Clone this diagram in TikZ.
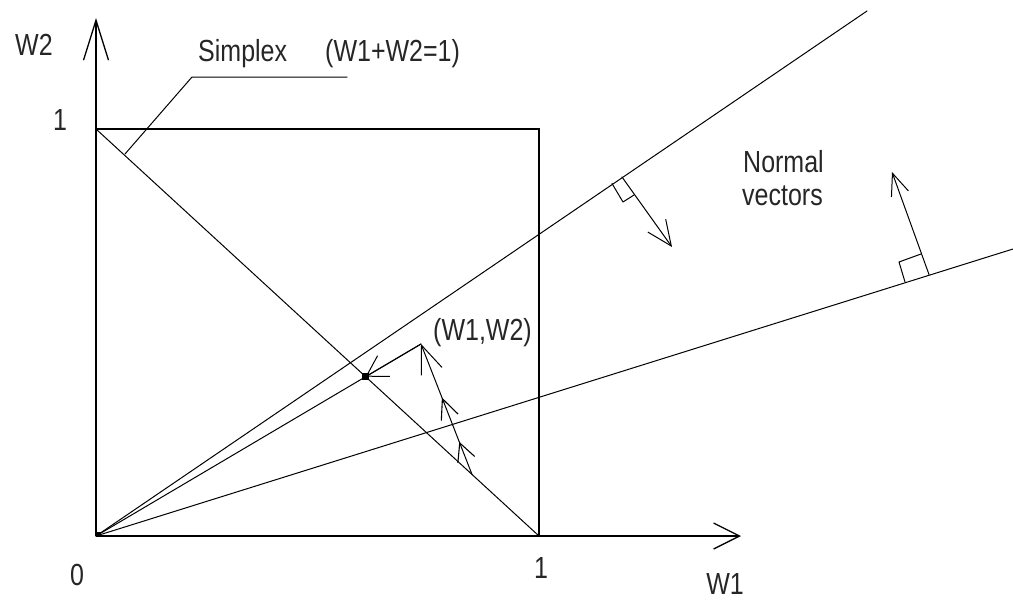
\documentclass[tikz,border=0pt]{standalone}
\usepackage{fontspec}
\usepackage{graphicx}
\setmainfont{Liberation Sans}
\usetikzlibrary{arrows.meta,decorations.markings,calc}
\newcommand{\tallt}[1]{\scalebox{1}[1.22]{#1}}
\begin{document}
\begin{tikzpicture}[x=1pt,y=-1pt,
  lbl/.style={font=\fontsize{25}{30}\selectfont, inner sep=0pt, text=black!85},
  ln/.style={line width=1pt, line cap=round, line join=round},
  axis/.style={line width=1.3pt},
  barb/.style={line width=1.1pt}]
\useasboundingbox (0,0) rectangle (1013,600);
% key points
\coordinate (O) at (96,536);
\coordinate (ytip) at (96,18);
\coordinate (xtip) at (741,536);
\coordinate (X1) at (539,536);
\coordinate (Y1) at (96,129);
\coordinate (C) at (539,129);
\coordinate (L1) at (867,11);
\coordinate (L2) at (1013,249);
\coordinate (P) at (421,344);
\coordinate (D) at (365.6,376.7);
\coordinate (S) at (472,474.4);
% axes
\draw[axis, -{Straight Barb[length=40pt,width=25pt]}] (O) -- (ytip);
\draw[axis, -{Straight Barb[length=26pt,width=26pt]}] (O) -- (xtip);
% unit square
\draw[axis] (Y1) -- (C) -- (X1);
\draw[line width=2.6pt] (O) -- (X1);
% simplex
\draw[ln] (Y1) -- (X1);
% lines from origin
\draw[ln] (O) -- (L1);
\draw[ln] (O) -- (L2);
\draw[ln] (O) -- (P);
\node[fill=black, minimum size=4pt, inner sep=0pt] (orig) at ($(O)+(3,-2)$) {};
% projection arrow to the simplex point
\draw[ln, -{Straight Barb[length=20pt,width=24pt]}] (P) -- (D);
\node[fill=black, minimum size=7pt, inner sep=0pt] (dot) at (D) {};
% vector from simplex point to (W1,W2)
\draw[ln, -{Straight Barb[length=28pt,width=22pt]},
  postaction={decorate},
  decoration={markings,
    mark=at position 0.25 with {\arrow[barb]{Straight Barb[length=18pt,width=18pt]}},
    mark=at position 0.59 with {\arrow[barb]{Straight Barb[length=20pt,width=18pt]}}}]
  (S) -- (P);
% simplex leader
\coordinate (s0) at (125,154);
\coordinate (s1) at (192,77);
\coordinate (s2) at (347,77);
\draw[ln] (s0) -- (s1) -- (s2);
% normal vector on upper line
\coordinate (F1) at (622,177);
\coordinate (N1) at (672,247);
\draw[ln, -{Straight Barb[length=25pt,width=22pt]}] (F1) -- (N1);
\draw[ln] (612,183.5) -- (623,202) -- (634,195);
% normal vector on lower line
\coordinate (F2) at (929,274.5);
\coordinate (N2) at (892,172);
\draw[ln, -{Straight Barb[length=22pt,width=18pt]}] (F2) -- (N2);
\draw[ln] (905,282) -- (899,262) -- (921,254);
% labels
\node[lbl, anchor=base] (w2) at (34,55) {\tallt{W2}};
\node[lbl, anchor=base west] (simplex) at (198,61) {\tallt{Simplex}};
\node[lbl, anchor=base west] (eq) at (325,61) {\tallt{(W1+W2=1)}};
\node[lbl, anchor=base] (oney) at (60,130) {\tallt{1}};
\node[lbl, anchor=base] (zero) at (77,585) {\tallt{0}};
\node[lbl, anchor=base] (onex) at (541,578) {\tallt{1}};
\node[lbl, anchor=base] (w1) at (725,594) {\tallt{W1}};
\node[lbl, anchor=base west] (pt) at (433,340) {\tallt{(W1,W2)}};
\node[lbl, anchor=base west] (nv1) at (743,172) {\tallt{Normal}};
\node[lbl, anchor=base west] (nv2) at (742,205) {\tallt{vectors}};
\end{tikzpicture}
\end{document}
